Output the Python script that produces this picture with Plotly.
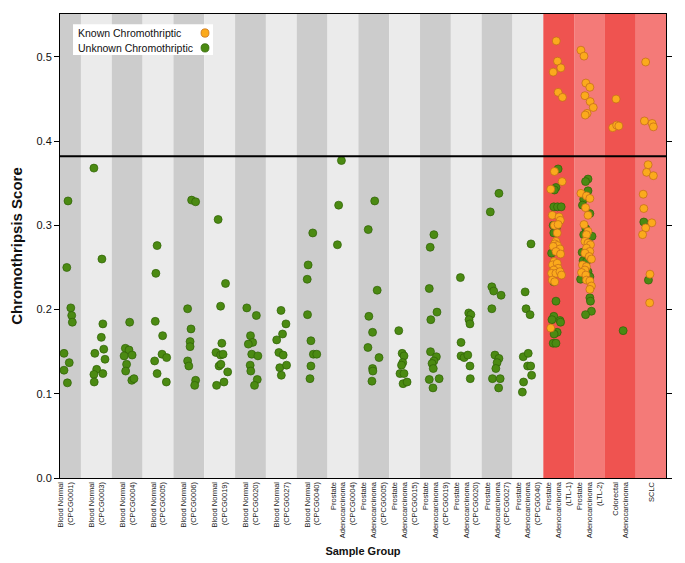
import plotly.graph_objects as go

categories = [
    "Blood Normal<br>(CPCG0001)", "Blood Normal<br>(CPCG0003)", "Blood Normal<br>(CPCG0004)",
    "Blood Normal<br>(CPCG0005)", "Blood Normal<br>(CPCG0006)", "Blood Normal<br>(CPCG0019)",
    "Blood Normal<br>(CPCG0020)", "Blood Normal<br>(CPCG0027)", "Blood Normal<br>(CPCG0040)",
    "Prostate<br>Adenocarcinoma<br>(CPCG0004)", "Prostate<br>Adenocarcinoma<br>(CPCG0005)",
    "Prostate<br>Adenocarcinoma<br>(CPCG0015)", "Prostate<br>Adenocarcinoma<br>(CPCG0019)",
    "Prostate<br>Adenocarcinoma<br>(CPCG0020)", "Prostate<br>Adenocarcinoma<br>(CPCG0027)",
    "Prostate<br>Adenocarcinoma<br>(CPCG0040)", "Prostate<br>Adenocarcinoma<br>(LTL-1)",
    "Prostate<br>Adenocarcinoma<br>(LTL-2)", "Colorectal<br>Adenocarcinoma", "SCLC",
]
# index of first "tumour reference" group (red bands)
reference_start = 16
threshold = 0.382

# Unknown chromothriptic: scores and horizontal jitter (category units) per group
unknown_scores = [
    [0.329, 0.250, 0.202, 0.193, 0.185, 0.148, 0.137, 0.128, 0.113],
    [0.368, 0.260, 0.183, 0.167, 0.148, 0.153, 0.141, 0.129, 0.123, 0.124, 0.114],
    [0.185, 0.154, 0.152, 0.146, 0.145, 0.135, 0.127, 0.116, 0.118],
    [0.276, 0.243, 0.186, 0.169, 0.147, 0.143, 0.139, 0.124, 0.114],
    [0.330, 0.328, 0.201, 0.177, 0.162, 0.156, 0.139, 0.133, 0.116, 0.110],
    [0.307, 0.231, 0.204, 0.160, 0.149, 0.146, 0.147, 0.133, 0.135, 0.126, 0.114, 0.110],
    [0.202, 0.193, 0.169, 0.161, 0.159, 0.147, 0.145, 0.134, 0.127, 0.117, 0.110],
    [0.199, 0.183, 0.171, 0.164, 0.149, 0.146, 0.131, 0.134, 0.122],
    [0.291, 0.253, 0.236, 0.194, 0.163, 0.147, 0.147, 0.133, 0.118],
    [0.377, 0.324, 0.277],
    [0.329, 0.295, 0.223, 0.192, 0.173, 0.155, 0.143, 0.130, 0.127, 0.115],
    [0.175, 0.148, 0.145, 0.137, 0.134, 0.124, 0.124, 0.112, 0.114],
    [0.289, 0.274, 0.225, 0.197, 0.188, 0.150, 0.144, 0.139, 0.136, 0.130, 0.117, 0.118, 0.107],
    [0.238, 0.196, 0.194, 0.188, 0.183, 0.161, 0.145, 0.143, 0.146, 0.133, 0.118],
    [0.338, 0.316, 0.227, 0.222, 0.217, 0.201, 0.146, 0.142, 0.137, 0.130, 0.118, 0.118, 0.107],
    [0.278, 0.221, 0.201, 0.194, 0.144, 0.148, 0.133, 0.133, 0.122, 0.114, 0.102],
    [0.367, 0.345, 0.342, 0.322, 0.322, 0.322, 0.300, 0.298, 0.291, 0.267, 0.233, 0.210,
     0.192, 0.188, 0.187, 0.185, 0.173, 0.171, 0.160, 0.160],
    [0.355, 0.352, 0.341, 0.331, 0.324, 0.314, 0.296, 0.287, 0.289, 0.268, 0.258, 0.257,
     0.245, 0.239, 0.236, 0.214, 0.210, 0.198, 0.194],
    [0.175],
    [0.304, 0.235],
]
unknown_jitter = [
    [0.08, 0.04, 0.17, 0.20, 0.22, -0.05, 0.12, -0.05, 0.06],
    [-0.08, 0.18, 0.21, 0.16, -0.05, 0.24, 0.28, 0.01, -0.08, 0.21, -0.07],
    [0.08, -0.06, 0.06, 0.16, -0.10, -0.02, -0.05, 0.15, 0.22],
    [-0.03, -0.07, -0.09, 0.15, 0.13, 0.28, -0.11, -0.03, 0.27],
    [0.09, 0.22, -0.04, 0.07, 0.04, 0.04, -0.04, 0.00, 0.22, 0.19],
    [-0.05, 0.19, 0.03, 0.07, -0.12, 0.03, 0.11, -0.02, 0.04, 0.26, 0.14, -0.10],
    [-0.12, 0.19, 0.00, 0.07, -0.07, 0.04, 0.24, -0.01, 0.01, 0.22, 0.13],
    [-0.01, 0.15, 0.04, -0.15, -0.08, 0.06, -0.05, 0.17, 0.00],
    [0.02, -0.13, -0.16, -0.15, -0.04, 0.04, 0.15, -0.04, -0.07],
    [-0.05, -0.14, -0.18],
    [0.03, -0.18, 0.11, -0.16, -0.04, -0.19, 0.17, -0.04, -0.03, -0.06],
    [-0.19, -0.08, -0.02, -0.06, -0.10, -0.15, -0.02, -0.05, 0.08],
    [-0.05, -0.17, -0.20, 0.05, -0.15, -0.16, 0.03, -0.05, -0.11, -0.07, -0.20, 0.12, -0.08],
    [-0.19, 0.08, 0.15, 0.09, 0.12, -0.17, -0.17, -0.07, 0.05, 0.12, 0.13],
    [0.06, -0.22, -0.17, -0.11, 0.13, -0.17, -0.07, 0.06, 0.00, -0.04, -0.15, 0.10, 0.05],
    [0.10, -0.09, -0.06, 0.07, -0.15, 0.01, -0.01, 0.09, 0.12, -0.14, -0.18],
    [-0.02, -0.09, -0.14, -0.16, -0.04, 0.08, -0.18, -0.07, -0.16, -0.23, -0.16, -0.09,
     -0.16, -0.22, 0.04, 0.06, -0.05, -0.15, -0.18, -0.09],
    [-0.05, -0.13, -0.05, -0.19, -0.23, 0.01, -0.12, 0.08, -0.19, -0.24, -0.21, -0.10,
     -0.05, 0.01, -0.29, 0.01, 0.03, 0.06, -0.13],
    [0.09],
    [-0.24, -0.09],
]

# Known chromothriptic: scores and jitter per group (only reference groups)
known_scores = [[] for _ in range(16)] + [
    [0.519, 0.495, 0.487, 0.482, 0.458, 0.452,
     0.364, 0.352, 0.343, 0.312, 0.310, 0.306, 0.300, 0.301, 0.291,
     0.281, 0.278, 0.276, 0.275, 0.272, 0.269, 0.266,
     0.257, 0.253, 0.255, 0.249, 0.247, 0.243, 0.243, 0.245, 0.241,
     0.235, 0.233, 0.178],
    [0.508, 0.501, 0.469, 0.464, 0.454, 0.447, 0.440, 0.433, 0.431,
     0.338, 0.335, 0.332, 0.321, 0.312, 0.301, 0.293, 0.289,
     0.281, 0.279, 0.277, 0.273, 0.269, 0.267, 0.263, 0.260,
     0.253, 0.251, 0.247, 0.244, 0.241, 0.235, 0.234, 0.228, 0.224],
    [0.450, 0.416, 0.419, 0.418],
    [0.494, 0.424, 0.421, 0.417,
     0.372, 0.363, 0.359, 0.337, 0.320, 0.303, 0.297, 0.289, 0.242, 0.208],
]
known_jitter = [[] for _ in range(16)] + [
    [-0.08, -0.04, 0.07, -0.18, -0.02, 0.12,
     -0.14, 0.11, -0.26, -0.21, 0.01, 0.05, -0.14, -0.02, -0.05,
     -0.09, -0.13, -0.04, -0.18, 0.04, -0.09, 0.06,
     -0.15, -0.20, -0.05, -0.02, -0.16, -0.23, -0.09, 0.04, 0.09,
     -0.21, -0.13, -0.26],
    [-0.28, -0.18, -0.12, 0.01, -0.15, 0.02, 0.12, -0.08, -0.14,
     -0.28, -0.10, 0.01, -0.13, -0.05, -0.18, -0.05, -0.10,
     -0.15, -0.05, 0.03, -0.10, 0.01, -0.15, -0.01, 0.06,
     -0.23, -0.10, -0.15, -0.26, -0.12, -0.10, 0.01, 0.06, 0.01],
    [-0.14, -0.25, -0.12, -0.05],
    [-0.18, -0.22, 0.03, 0.07,
     -0.10, -0.15, 0.07, -0.26, -0.24, 0.02, -0.18, -0.28, -0.04, -0.05],
]

FONT = "Arial, Liberation Sans, Helvetica, sans-serif"
GREEN, GREEN_EDGE = "#4b8a12", "#2f6206"
ORANGE, ORANGE_EDGE = "#fbaa1c", "#c0691a"

ux, uy, kx, ky = [], [], [], []
for i in range(len(categories)):
    for s, j in zip(unknown_scores[i], unknown_jitter[i]):
        ux.append(i + j); uy.append(s)
    for s, j in zip(known_scores[i], known_jitter[i]):
        kx.append(i + j); ky.append(s)

fig = go.Figure()
fig.add_trace(go.Scatter(x=ux, y=uy, mode="markers", name="Unknown Chromothriptic",
                         marker=dict(size=8, color=GREEN, line=dict(color=GREEN_EDGE, width=0.7)),
                         showlegend=False))
fig.add_trace(go.Scatter(x=kx, y=ky, mode="markers", name="Known Chromothriptic",
                         marker=dict(size=8, color=ORANGE, line=dict(color=ORANGE_EDGE, width=0.7)),
                         showlegend=False))

shapes = []
for i in range(len(categories)):
    if i < reference_start:
        col = "#cccccc" if i % 2 == 0 else "#ebebeb"
    else:
        col = "#ef5350" if i % 2 == 0 else "#f47a78"
    shapes.append(dict(type="rect", xref="x", yref="y domain", x0=i - 0.5, x1=i + 0.5,
                       y0=0, y1=1, fillcolor=col, line=dict(width=0), layer="below"))
shapes.append(dict(type="line", xref="x domain", yref="y", x0=0, x1=1, y0=threshold, y1=threshold,
                   line=dict(color="black", width=2)))

# custom legend (markers on the right of the labels)
shapes.append(dict(type="rect", xref="paper", yref="paper", x0=0.0215, x1=0.2525, y0=0.9116, y1=0.978,
                   fillcolor="white", line=dict(width=0), layer="above"))
legend_items = [("Known Chromothriptic", ORANGE, ORANGE_EDGE, 0.959),
                ("Unknown Chromothriptic", GREEN, GREEN_EDGE, 0.927)]
annotations = []
for text, c, e, yy in legend_items:
    annotations.append(dict(text=text, xref="paper", yref="paper", x=0.026, y=yy, xanchor="left",
                            yanchor="middle", showarrow=False, font=dict(family=FONT, size=10.5, color="#111")))
    shapes.append(dict(type="circle", xref="paper", yref="paper", x0=0.2327, x1=0.2459,
                       y0=yy - 4.2 / 464, y1=yy + 4.2 / 464, fillcolor=c, line=dict(color=e, width=0.7),
                       layer="above"))

# the page body adds an 8px offset; size the figure so the plot lands where the reference has it
fig.update_layout(
    width=677, height=555,
    margin=dict(l=52, r=19, t=6, b=85),
    paper_bgcolor="white", plot_bgcolor="white",
    font=dict(family=FONT, color="#111"),
    shapes=shapes, annotations=annotations,
    showlegend=False,
)
fig.update_xaxes(
    range=[-0.18, 19.48], tickmode="array", tickvals=list(range(len(categories))), ticktext=categories,
    tickangle=-90, tickfont=dict(size=7.5, family=FONT, color="#222"), ticks="",
    showline=True, linecolor="black", linewidth=1, mirror=True, showgrid=False, zeroline=False,
    automargin=False,
    title=dict(text="<b>Sample Group</b>", font=dict(size=11, family=FONT), standoff=10),
)
fig.update_yaxes(
    range=[0, 0.551], tickvals=[0, 0.1, 0.2, 0.3, 0.4, 0.5], tickformat=".1f",
    tickfont=dict(size=11, family=FONT), ticks="outside", ticklen=5, tickcolor="black",
    showline=True, linecolor="black", linewidth=1, mirror="allticks", showgrid=False, zeroline=False,
    automargin=False,
    title=dict(text="<b>Chromothripsis Score</b>", font=dict(size=15, family=FONT), standoff=17),
)

fig.write_html("out.html")
